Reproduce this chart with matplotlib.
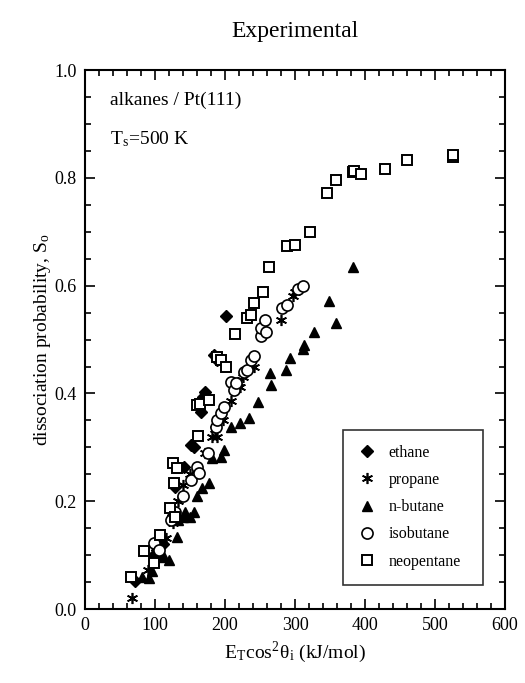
import numpy as np
import matplotlib.pyplot as plt
from matplotlib.ticker import MultipleLocator

plt.rcParams['font.family'] = ['Liberation Serif', 'DejaVu Serif']
plt.rcParams['mathtext.fontset'] = 'stix'

# ethane (filled diamonds)
ethane_x = [72, 98, 103, 112, 126, 129, 141, 151, 155, 165, 169, 172, 184, 188, 201]
ethane_y = [0.052, 0.100, 0.110, 0.120, 0.174, 0.227, 0.263, 0.304, 0.300, 0.366, 0.394, 0.403, 0.471, 0.463, 0.544]

# propane (asterisks)
propane_x = [67, 90, 100, 108, 116, 125, 133, 140, 150, 160, 172, 182, 186, 189, 197,
             208, 218, 222, 225, 241, 280, 297, 300]
propane_y = [0.021, 0.072, 0.100, 0.120, 0.131, 0.160, 0.200, 0.230, 0.250, 0.260, 0.289, 0.320, 0.335, 0.320, 0.350,
             0.386, 0.422, 0.412, 0.431, 0.450, 0.536, 0.580, 0.588]

# n-butane (filled triangles)
butane_x = [81, 91, 95, 108, 112, 120, 132, 133, 140, 143, 150, 155, 160, 167, 177,
            182, 194, 198, 208, 222, 234, 247, 264, 265, 287, 293, 312, 313, 327, 349, 358, 383]
butane_y = [0.060, 0.057, 0.070, 0.097, 0.100, 0.091, 0.134, 0.165, 0.170, 0.180, 0.170, 0.180, 0.210, 0.224, 0.234,
            0.280, 0.283, 0.295, 0.338, 0.345, 0.354, 0.385, 0.438, 0.416, 0.443, 0.465, 0.482, 0.490, 0.514, 0.572, 0.530, 0.635]

# isobutane (open circles)
isobutane_x = [99, 105, 123, 128, 140, 151, 160, 163, 176, 187, 189, 194, 198, 208, 213, 215,
               227, 232, 237, 241, 251, 251, 257, 258, 282, 289, 304, 311]
isobutane_y = [0.122, 0.110, 0.165, 0.180, 0.210, 0.239, 0.264, 0.252, 0.290, 0.338, 0.351, 0.364, 0.375, 0.422, 0.406, 0.419,
               0.440, 0.443, 0.462, 0.469, 0.506, 0.521, 0.536, 0.514, 0.558, 0.565, 0.593, 0.599]

# neopentane (open squares)
neopentane_x = [66, 84, 99, 107, 122, 129, 127, 126, 131, 160, 162, 164, 177, 189, 194, 201,
                214, 231, 237, 242, 254, 263, 288, 300, 321, 345, 358, 383, 384, 394, 429, 460, 526, 526]
neopentane_y = [0.059, 0.108, 0.086, 0.137, 0.187, 0.171, 0.233, 0.271, 0.261, 0.378, 0.321, 0.380, 0.388, 0.467, 0.462, 0.449,
                0.511, 0.540, 0.545, 0.567, 0.589, 0.635, 0.674, 0.675, 0.700, 0.772, 0.797, 0.811, 0.813, 0.808, 0.816, 0.833, 0.838, 0.842]

fig = plt.figure(figsize=(5.25, 6.83), dpi=100)
ax = fig.add_axes([0.162, 0.1083, 0.8, 0.789])

ms = 7
ax.plot(ethane_x, ethane_y, "D", color="black", markersize=ms - 1, linestyle="none", label="ethane")
ax.plot(propane_x, propane_y, color="black", markersize=ms + 1, linestyle="none", label="propane",
        marker=(6, 2, 0), markeredgewidth=1.2)
ax.plot(butane_x, butane_y, "^", color="black", markersize=ms, linestyle="none", label="n-butane")
ax.plot(isobutane_x, isobutane_y, "o", markerfacecolor="white", markeredgecolor="black", markersize=ms + 1,
        markeredgewidth=1.2, linestyle="none", label="isobutane")
ax.plot(neopentane_x, neopentane_y, "s", markerfacecolor="white", markeredgecolor="black", markersize=ms,
        markeredgewidth=1.4, linestyle="none", label="neopentane")

ax.set_xlim(0, 600)
ax.set_ylim(0, 1.0)
ax.xaxis.set_major_locator(MultipleLocator(100))
ax.xaxis.set_minor_locator(MultipleLocator(20))
ax.yaxis.set_major_locator(MultipleLocator(0.2))
ax.yaxis.set_minor_locator(MultipleLocator(0.05))
ax.yaxis.set_major_formatter(plt.FuncFormatter(lambda v, p: f"{v:.1f}"))
ax.tick_params(which="both", direction="in", top=True, right=True, labelsize=13, width=1.2)
ax.tick_params(which="major", length=7, pad=6)
ax.tick_params(which="minor", length=4)
for s in ax.spines.values():
    s.set_linewidth(1.5)

ax.set_xlabel(r"E$_\mathregular{T}$cos$^\mathregular{2}$θ$_\mathregular{i}$ (kJ/mol)", fontsize=14, labelpad=4)
ax.set_ylabel(r"dissociation probability, S$_\mathregular{o}$", fontsize=14, labelpad=1)
ax.set_title("Experimental", fontsize=17, pad=24)

ax.text(0.06, 0.944, "alkanes / Pt(111)", transform=ax.transAxes, fontsize=14, va="center")
ax.text(0.06, 0.872, r"T$_\mathregular{s}$=500 K", transform=ax.transAxes, fontsize=14, va="center")

leg = ax.legend(loc="lower left", bbox_to_anchor=(0.615, 0.045, 0.332, 0.287), mode="expand",
                borderaxespad=0, fontsize=11.5, frameon=True, fancybox=False, edgecolor="black",
                handlelength=1.0, handletextpad=0.9, labelspacing=0.7, borderpad=0.95)
leg.get_frame().set_linewidth(1.2)

fig.savefig("out.png", dpi=100)
